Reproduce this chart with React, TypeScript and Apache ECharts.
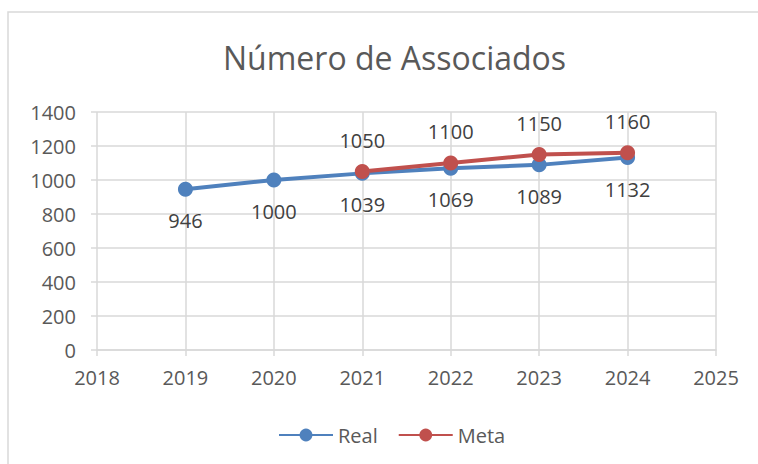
import React, { useEffect, useRef } from "react";
import * as echarts from "echarts";

const years = [2019, 2020, 2021, 2022, 2023, 2024];
const realValues = [946, 1000, 1039, 1069, 1089, 1132];
const metaYears = [2021, 2022, 2023, 2024];
const metaValues = [1050, 1100, 1150, 1160];
const titleText = "Número de Associados";
const seriesNames = ["Real", "Meta"];

const FONT = "'Open Sans', 'Liberation Sans', sans-serif";

export default function App() {
  const ref = useRef<HTMLDivElement>(null);
  useEffect(() => {
    if (!ref.current) return;
    const chart = echarts.init(ref.current, undefined, { renderer: "svg" });
    chart.setOption({
      animation: false,
      backgroundColor: "#ffffff",
      textStyle: { fontFamily: FONT },
      title: {
        text: titleText,
        left: 218,
        top: 36,
        textStyle: { fontFamily: FONT, fontSize: 32, fontWeight: "normal", color: "#595959" },
      },
      graphic: [
        {
          type: "rect",
          shape: { x: 8, y: 12, width: 800, height: 500 },
          style: { fill: "none", stroke: "#d9d9d9", lineWidth: 1.5 },
          silent: true,
        },
      ],
      legend: {
        bottom: 14,
        left: 273,
        itemWidth: 54,
        itemHeight: 16,
        itemGap: 20,
        textStyle: { fontFamily: FONT, fontSize: 20, color: "#595959" },
        data: seriesNames,
      },
      grid: { left: 97, right: 42, top: 112, bottom: 114 },
      xAxis: {
        type: "value",
        min: 2018,
        max: 2025,
        interval: 1,
        axisLine: { show: true, lineStyle: { color: "#d9d9d9", width: 1.5 } },
        axisTick: { show: true, length: 6, lineStyle: { color: "#d9d9d9", width: 1.5 } },
        splitLine: { show: true, lineStyle: { color: "#d9d9d9", width: 1.5 } },
        axisLabel: {
          fontFamily: FONT,
          fontSize: 20,
          color: "#595959",
          margin: 17,
          formatter: (v: number) => String(v),
        },
      },
      yAxis: {
        type: "value",
        min: 0,
        max: 1400,
        interval: 200,
        axisLine: { show: false },
        axisTick: { show: true, length: 6, lineStyle: { color: "#d9d9d9", width: 1.5 } },
        splitLine: { show: true, lineStyle: { color: "#d9d9d9", width: 1.5 } },
        axisLabel: {
          fontFamily: FONT,
          fontSize: 20,
          color: "#595959",
          margin: 21,
          formatter: (v: number) => String(v),
        },
      },
      series: [
        {
          name: seriesNames[0],
          type: "line",
          data: years.map((y, i) => [y, realValues[i]]),
          symbol: "circle",
          symbolSize: 15,
          itemStyle: { color: "#4F81BD" },
          lineStyle: { color: "#4F81BD", width: 4 },
          label: {
            show: true,
            position: "bottom",
            distance: 14,
            fontFamily: FONT,
            fontSize: 20,
            color: "#404040",
            formatter: (p: any) => String(p.value[1]),
          },
        },
        {
          name: seriesNames[1],
          type: "line",
          data: metaYears.map((y, i) => [y, metaValues[i]]),
          symbol: "circle",
          symbolSize: 15,
          itemStyle: { color: "#C0504D" },
          lineStyle: { color: "#C0504D", width: 4 },
          label: {
            show: true,
            position: "top",
            distance: 14,
            fontFamily: FONT,
            fontSize: 20,
            color: "#404040",
            formatter: (p: any) => String(p.value[1]),
          },
        },
      ],
    });
    return () => chart.dispose();
  }, []);
  return (
    <div
      ref={ref}
      style={{ position: "fixed", left: 0, top: 0, width: 758, height: 464 }}
    />
  );
}
